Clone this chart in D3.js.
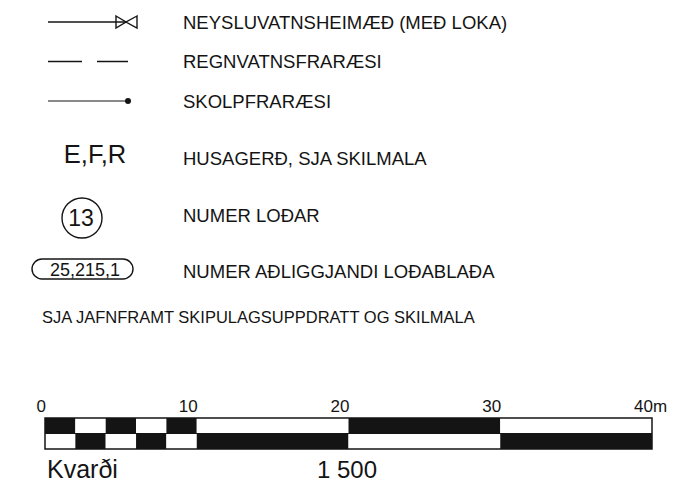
<!DOCTYPE html>
<html>
<head>
<meta charset="utf-8">
<script src="https://cdn.jsdelivr.net/npm/d3@7"></script>
<style>
  body { margin: 0; background: #fff; }
  svg { display: block; font-family: "Liberation Sans", Arial, sans-serif; }
</style>
</head>
<body>
<div id="chart"></div>
<script>
// legend entries
var lineSymbols = ["valve", "dashed", "dot"];
var lineLabels = ["NEYSLUVATNSHEIMÆÐ (MEÐ LOKA)", "REGNVATNSFRARÆSI", "SKOLPFRARÆSI"];
var houseCode = "E,F,R";
var houseLabel = "HUSAGERÐ, SJA SKILMALA";
var lotNumber = "13";
var lotLabel = "NUMER LOÐAR";
var sheetNumber = "25,215,1";
var sheetLabel = "NUMER AÐLIGGJANDI LOÐABLAÐA";
var note = "SJA JAFNFRAMT SKIPULAGSUPPDRATT OG SKILMALA";

// scale bar (metres)
var scaleBreaks = [0, 2, 4, 6, 8, 10, 20, 30, 40];
var scaleTicks = [0, 10, 20, 30, 40];
var scaleUnit = "m";
var scaleTitle = "Kvarði";
var scaleRatio = "1 500";

var W = 682, H = 494;
var ink = "#141414";

var svg = d3.select("#chart").append("svg")
  .attr("width", W)
  .attr("height", H);

// ---- line symbols ----
var rowY = d3.scalePoint().domain(lineSymbols).range([22, 101]);
var x0 = 48, x1 = 128;

lineSymbols.forEach(function(s) {
  var y = rowY(s);
  var g = svg.append("g");
  if (s == "valve") {
    g.append("line").attr("x1", x0).attr("x2", 126).attr("y1", y).attr("y2", y)
      .attr("stroke", ink).attr("stroke-width", 1.4);
    g.append("path")
      .attr("d", "M116," + (y - 6) + "L126," + y + "L116," + (y + 6) + "Z" +
                 "M137," + (y - 6) + "L126," + y + "L137," + (y + 6) + "Z")
      .attr("fill", "none").attr("stroke", ink).attr("stroke-width", 1.4);
  } else if (s == "dashed") {
    g.append("line").attr("x1", x0).attr("x2", x1).attr("y1", y).attr("y2", y)
      .attr("stroke", ink).attr("stroke-width", 1.4)
      .attr("stroke-dasharray", "34,15");
  } else {
    g.append("line").attr("x1", x0).attr("x2", x1).attr("y1", y).attr("y2", y)
      .attr("stroke", ink).attr("stroke-width", 1.2);
    g.append("circle").attr("cx", x1).attr("cy", y).attr("r", 3).attr("fill", ink);
  }
});

svg.selectAll(".linelabel")
  .data(lineLabels)
  .enter().append("text")
    .attr("class", "linelabel")
    .attr("x", 183)
    .attr("y", function(d, i) { return rowY(lineSymbols[i]) + 6.5; })
    .attr("font-size", 18.5)
    .attr("fill", ink)
    .text(function(d) { return d; });

// ---- house type ----
svg.append("text")
  .attr("x", 95).attr("y", 163)
  .attr("text-anchor", "middle")
  .attr("font-size", 25.5)
  .attr("fill", ink)
  .text(houseCode);
svg.append("text")
  .attr("x", 183).attr("y", 165)
  .attr("font-size", 18.5)
  .attr("fill", ink)
  .text(houseLabel);

// ---- lot number ----
svg.append("circle")
  .attr("cx", 82).attr("cy", 218).attr("r", 20)
  .attr("fill", "none").attr("stroke", ink).attr("stroke-width", 1.4);
svg.append("text")
  .attr("x", 81).attr("y", 226)
  .attr("text-anchor", "middle")
  .attr("font-size", 23)
  .attr("fill", ink)
  .text(lotNumber);
svg.append("text")
  .attr("x", 183).attr("y", 222)
  .attr("font-size", 18.5)
  .attr("fill", ink)
  .text(lotLabel);

// ---- neighbouring sheet ----
svg.append("rect")
  .attr("x", 32).attr("y", 259).attr("width", 101).attr("height", 20)
  .attr("rx", 10).attr("ry", 10)
  .attr("fill", "none").attr("stroke", ink).attr("stroke-width", 1.4);
svg.append("text")
  .attr("x", 85).attr("y", 275.5)
  .attr("text-anchor", "middle")
  .attr("font-size", 18)
  .attr("fill", ink)
  .text(sheetNumber);
svg.append("text")
  .attr("x", 183).attr("y", 278)
  .attr("font-size", 18.5)
  .attr("fill", ink)
  .text(sheetLabel);

svg.append("text")
  .attr("x", 42).attr("y", 323)
  .attr("font-size", 16.5)
  .attr("fill", ink)
  .text(note);

// ---- scale bar ----
var sx = d3.scaleLinear().domain([0, 40]).range([45, 652]);
var barTop = 418, rowH = 15.5;

var segs = [];
for (var i = 0; i < scaleBreaks.length - 1; i++) {
  segs.push({a: scaleBreaks[i], b: scaleBreaks[i + 1], row: 0, black: i % 2 == 0});
  segs.push({a: scaleBreaks[i], b: scaleBreaks[i + 1], row: 1, black: i % 2 == 1});
}

svg.selectAll(".seg")
  .data(segs)
  .enter().append("rect")
    .attr("class", "seg")
    .attr("x", function(d) { return sx(d.a); })
    .attr("y", function(d) { return barTop + d.row * rowH; })
    .attr("width", function(d) { return sx(d.b) - sx(d.a); })
    .attr("height", rowH)
    .attr("fill", function(d) { return d.black ? ink : "#fff"; });

svg.append("rect")
  .attr("x", sx(0)).attr("y", barTop)
  .attr("width", sx(40) - sx(0)).attr("height", rowH * 2)
  .attr("fill", "none").attr("stroke", ink).attr("stroke-width", 1.5);
svg.append("line")
  .attr("x1", sx(0)).attr("x2", sx(40))
  .attr("y1", barTop + rowH).attr("y2", barTop + rowH)
  .attr("stroke", ink).attr("stroke-width", 1);

svg.selectAll(".tick")
  .data(scaleTicks)
  .enter().append("text")
    .attr("class", "tick")
    .attr("x", function(d) { return sx(d) + 1; })
    .attr("y", 412)
    .attr("text-anchor", "end")
    .attr("font-size", 17)
    .attr("fill", ink)
    .text(function(d) { return d; });
svg.append("text")
  .attr("x", sx(40) + 1).attr("y", 412)
  .attr("font-size", 17)
  .attr("fill", ink)
  .text(scaleUnit);

svg.append("text")
  .attr("x", 47).attr("y", 478)
  .attr("font-size", 25)
  .attr("fill", ink)
  .text(scaleTitle);
svg.append("text")
  .attr("x", 317).attr("y", 478)
  .attr("font-size", 24)
  .attr("fill", ink)
  .text(scaleRatio);
</script>
</body>
</html>
